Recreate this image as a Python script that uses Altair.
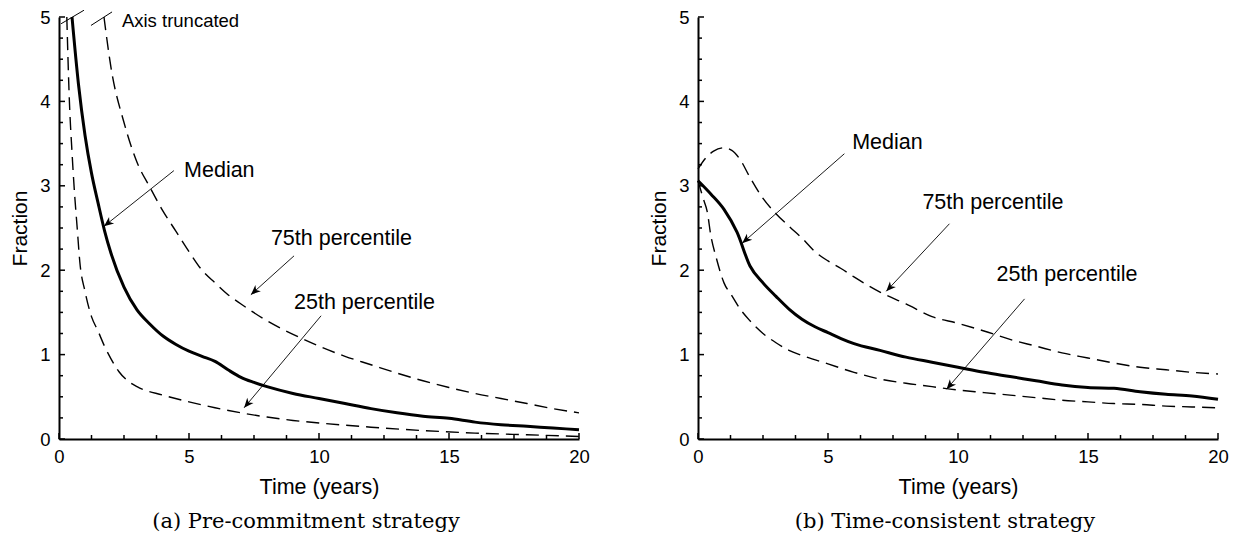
import math
import altair as alt
import pandas as pd
import numpy as np

# ---- Panel (a): pre-commitment strategy ----
pre_med_t = [0.5, 0.75, 1.0, 1.25, 1.5, 1.75, 2.0, 2.5, 3.0, 3.5, 4.0, 4.5, 5.0, 5.5, 6.0,
             6.5, 7.0, 7.5, 8.0, 9.0, 10, 11, 12, 13, 14, 15, 16, 17, 18, 19, 20]
pre_med_v = [5.0, 4.2, 3.6, 3.15, 2.8, 2.47, 2.2, 1.8, 1.53, 1.36, 1.22, 1.12, 1.04, 0.98, 0.92,
             0.82, 0.73, 0.67, 0.62, 0.54, 0.48, 0.42, 0.36, 0.31, 0.27, 0.245, 0.2, 0.17, 0.15, 0.13, 0.11]

pre_p75_t = [1.73, 2.0, 2.5, 3.0, 3.5, 4.0, 4.5, 5.0, 5.5, 6.0, 6.5, 7.0, 8.0, 9.0, 10, 11, 12,
             13, 14, 15, 16, 17, 18, 19, 20]
pre_p75_v = [5.0, 4.4, 3.75, 3.28, 2.98, 2.7, 2.46, 2.22, 2.0, 1.85, 1.71, 1.6, 1.40, 1.24, 1.1,
             0.98, 0.88, 0.78, 0.69, 0.61, 0.54, 0.48, 0.42, 0.36, 0.31]

pre_p25_t = [0.3, 0.4, 0.5, 0.6, 0.7, 0.8, 1.0, 1.25, 1.5, 1.75, 2.0, 2.3, 2.6, 3.0, 4.0, 5.0,
             6.0, 7.0, 8.0, 9.0, 10, 12, 14, 16, 18, 20]
pre_p25_v = [5.0, 4.0, 3.4, 2.9, 2.5, 2.1, 1.75, 1.45, 1.28, 1.1, 0.95, 0.8, 0.7, 0.62, 0.52, 0.44,
             0.37, 0.31, 0.26, 0.22, 0.19, 0.14, 0.1, 0.07, 0.05, 0.03]

# ---- Panel (b): time-consistent strategy ----
tc_med_t = [0, 0.5, 1.0, 1.5, 2.0, 2.5, 3.0, 3.5, 4.0, 4.5, 5.0, 5.5, 6.0, 7.0, 8.0, 9.0, 10,
            11, 12, 13, 14, 15, 16, 17, 18, 19, 20]
tc_med_v = [3.06, 2.9, 2.72, 2.45, 2.05, 1.85, 1.69, 1.54, 1.42, 1.33, 1.26, 1.19, 1.13, 1.05,
            0.97, 0.91, 0.85, 0.79, 0.74, 0.69, 0.64, 0.61, 0.6, 0.56, 0.53, 0.51, 0.47]

tc_p75_t = [0, 0.3, 0.6, 1.0, 1.3, 1.6, 2.0, 2.5, 3.0, 3.5, 4.0, 4.5, 5.0, 5.5, 6.0, 7.0, 8.0,
            9.0, 10, 11, 12, 13, 14, 15, 16, 17, 18, 19, 20]
tc_p75_v = [3.2, 3.33, 3.41, 3.45, 3.42, 3.32, 3.1, 2.85, 2.67, 2.52, 2.38, 2.22, 2.11, 2.02,
            1.92, 1.74, 1.6, 1.45, 1.37, 1.28, 1.18, 1.1, 1.02, 0.96, 0.9, 0.85, 0.82, 0.79, 0.77]

tc_p25_t = [0, 0.2, 0.35, 0.5, 0.7, 1.0, 1.3, 1.6, 2.0, 2.5, 3.0, 3.5, 4.0, 5.0, 6.0, 7.0, 8.0,
            9.0, 10, 11, 12, 13, 14, 15, 16, 17, 18, 19, 20]
tc_p25_v = [3.06, 2.85, 2.7, 2.4, 2.15, 1.85, 1.7, 1.55, 1.4, 1.25, 1.14, 1.05, 0.99, 0.89, 0.79,
            0.71, 0.66, 0.62, 0.58, 0.55, 0.52, 0.49, 0.46, 0.44, 0.42, 0.41, 0.39, 0.38, 0.37]

# Annotation labels: text, anchor time, anchor value
pre_labels = ["Median", "75th percentile", "25th percentile", "Axis truncated"]
pre_label_t = [4.81, 8.15, 9.04, 2.42]
pre_label_v = [3.18, 2.37, 1.61, 4.95]
pre_label_size = [21.5, 21.5, 21.5, 18.5]

tc_labels = ["Median", "75th percentile", "25th percentile"]
tc_label_t = [5.93, 8.63, 11.48]
tc_label_v = [3.51, 2.80, 1.94]
tc_label_size = [21.5, 21.5, 21.5]

# Arrows: start (t, v) -> tip (t2, v2)
pre_arrow_t = [4.42, 9.04, 10.08]
pre_arrow_v = [3.18, 2.17, 1.46]
pre_arrow_t2 = [1.73, 7.38, 7.12]
pre_arrow_v2 = [2.52, 1.71, 0.37]

tc_arrow_t = [5.63, 9.67, 12.56]
tc_arrow_v = [3.38, 2.55, 1.66]
tc_arrow_t2 = [1.70, 7.24, 9.56]
tc_arrow_v2 = [2.32, 1.75, 0.59]

# Axis-break slashes on the truncated panel
break_t = [0.08, 1.23]
break_v = [4.92, 4.90]
break_t2 = [0.96, 2.04]
break_v2 = [5.08, 5.06]

x_major = [0, 5, 10, 15, 20]
y_major = [0, 1, 2, 3, 4, 5]
x_minor = [t for t in np.arange(0, 20.01, 1.25) if t not in x_major]
y_minor = [v for v in np.arange(0, 5.01, 0.25) if v not in y_major]

W, H = 520, 422
T_MAX, V_MAX = 20, 5
SANS = "Liberation Sans"

# Arrow head: a stealth-style barb with its tip at the symbol origin, pointing up
HEAD = "M0,0 L0.42,1 L0,0.72 L-0.42,1 Z"


def panel(series, labels, lab_t, lab_v, lab_size, a_t, a_v, a_t2, a_v2, caption, breaks=None):
    xs = alt.Scale(domain=[0, T_MAX], nice=False, zero=False)
    ys = alt.Scale(domain=[0, V_MAX], nice=False, zero=False)
    x_axis = alt.Axis(values=x_major, ticks=False, grid=False, domainWidth=2, domainColor="black",
                      labelFont=SANS, labelFontSize=18.5, labelColor="black", labelPadding=8,
                      title="Time (years)", titleFont=SANS, titleFontSize=21.5, titleFontWeight="normal",
                      titleColor="black", titlePadding=11, labelFlush=False)
    y_axis = alt.Axis(values=y_major, ticks=False, grid=False, domainWidth=2, domainColor="black",
                      labelFont=SANS, labelFontSize=18.5, labelColor="black", labelPadding=9,
                      title="Fraction", titleFont=SANS, titleFontSize=21, titleFontWeight="normal",
                      titleColor="black", titlePadding=9, labelFlush=False)
    X = alt.X("t:Q", scale=xs, axis=x_axis)
    Y = alt.Y("v:Q", scale=ys, axis=y_axis)

    rows = []
    for name, ts, vs in series:
        rows += [{"s": name, "t": t, "v": v} for t, v in zip(ts, vs)]
    df = pd.DataFrame(rows)

    median = alt.Chart(df).transform_filter(alt.datum.s == "median").mark_line(
        color="black", strokeWidth=3, interpolate="monotone").encode(x=X, y=Y)
    dashed = alt.Chart(df).transform_filter(alt.datum.s != "median").mark_line(
        color="black", strokeWidth=1.4, strokeDash=[13, 7], interpolate="monotone"
    ).encode(x=X, y=Y, detail="s:N")

    # inward axis ticks
    def yt(vals, length):
        return alt.Chart(pd.DataFrame({"v": vals})).mark_rule(color="black", strokeWidth=1.5).encode(
            y=Y, x=alt.value(0), x2=alt.value(length))

    def xt(vals, length):
        return alt.Chart(pd.DataFrame({"t": vals})).mark_rule(color="black", strokeWidth=1.5).encode(
            x=X, y=alt.value(H), y2=alt.value(H - length))

    ticks = [yt(y_major, 6), yt(y_minor, 4), xt(x_major, 6), xt(x_minor, 4)]

    lab_df = pd.DataFrame({"label": labels, "t": lab_t, "v": lab_v, "size": lab_size})
    text = alt.Chart(lab_df).mark_text(align="left", baseline="middle", font=SANS, color="black").encode(
        x=X, y=Y, text="label:N", size=alt.Size("size:Q", scale=None))

    px_t, px_v = W / T_MAX, H / V_MAX
    ang = [math.degrees(math.atan2((t2 - t1) * px_t, (v2 - v1) * px_v)) % 360
           for t1, v1, t2, v2 in zip(a_t, a_v, a_t2, a_v2)]
    arr_df = pd.DataFrame({"t": a_t, "v": a_v, "t2": a_t2, "v2": a_v2, "ang": ang})
    shafts = alt.Chart(arr_df).mark_rule(color="black", strokeWidth=0.9).encode(
        x=X, y=Y, x2="t2:Q", y2="v2:Q")
    heads = alt.Chart(arr_df).mark_point(shape=HEAD, filled=True, color="black", size=380, opacity=1).encode(
        x=alt.X("t2:Q", scale=xs, axis=x_axis), y=alt.Y("v2:Q", scale=ys, axis=y_axis),
        angle=alt.Angle("ang:Q", scale=None))

    layers = [dashed, median, *ticks, shafts, heads, text]
    if breaks is not None:
        bt, bv, bt2, bv2 = breaks
        br_df = pd.DataFrame({"t": bt, "v": bv, "t2": bt2, "v2": bv2})
        layers.append(alt.Chart(br_df).mark_rule(color="black", strokeWidth=1).encode(
            x=X, y=Y, x2="t2:Q", y2="v2:Q"))

    return alt.layer(*layers).properties(
        width=W, height=H,
        title=alt.TitleParams(caption, orient="bottom", anchor="middle", font="DejaVu Serif",
                              fontSize=21, fontWeight="normal", color="black", offset=13, dx=-13),
    )


left = panel(
    [("median", pre_med_t, pre_med_v), ("p75", pre_p75_t, pre_p75_v), ("p25", pre_p25_t, pre_p25_v)],
    pre_labels, pre_label_t, pre_label_v, pre_label_size,
    pre_arrow_t, pre_arrow_v, pre_arrow_t2, pre_arrow_v2,
    "(a) Pre-commitment strategy", breaks=(break_t, break_v, break_t2, break_v2),
)
right = panel(
    [("median", tc_med_t, tc_med_v), ("p75", tc_p75_t, tc_p75_v), ("p25", tc_p25_t, tc_p25_v)],
    tc_labels, tc_label_t, tc_label_v, tc_label_size,
    tc_arrow_t, tc_arrow_v, tc_arrow_t2, tc_arrow_v2,
    "(b) Time-consistent strategy",
)

chart = alt.hconcat(left, right, spacing=58).properties(
    padding={"left": 9, "top": 8, "right": 5, "bottom": 5},
    background="white",
).configure_view(stroke=None)

chart.save("out.html", embed_options={"renderer": "svg", "actions": False})
